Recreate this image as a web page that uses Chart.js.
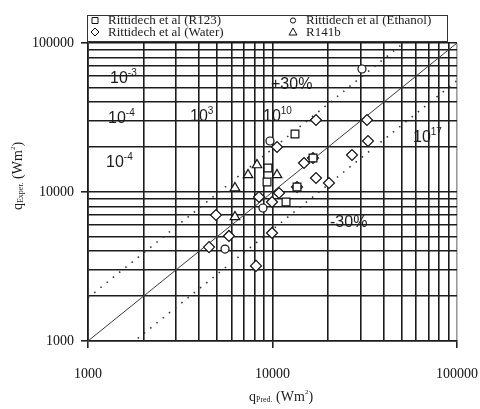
<!DOCTYPE html>
<html>
<head>
<meta charset="utf-8">
<script src="https://cdn.jsdelivr.net/npm/chart.js@4.4.0/dist/chart.umd.min.js"></script>
<style>
  html, body { margin: 0; padding: 0; background: #fff; }
  #wrap { width: 480px; height: 409px; }
</style>
</head>
<body>
<div id="wrap"><canvas id="qChart" width="480" height="409"></canvas></div>
<script>
const r123Pred = [13240, 9450, 9340, 16580, 13580, 11840];
const r123Exp  = [24510, 14490, 11670, 16910, 10800, 8570];

const ethanolPred = [30550, 9690, 8880, 5530];
const ethanolExp  = [66920, 21990, 7810, 4140];

const waterPred = [17210, 32520, 32930, 26970, 14820, 16580, 10580, 17210, 20240, 13580,
                   10850, 8450, 9940, 4940, 5810, 4530, 9940, 8140];
const waterExp  = [30420, 30420, 21990, 17720, 15650, 16910, 20040, 12420, 11490, 10800,
                   9850, 9260, 8570, 7010, 5070, 4270, 5310, 3190];

const r141bPred = [8240, 7370, 10580, 6260, 6260];
const r141bExp  = [15180, 13010, 13010, 10640, 6800];

// reference lines: y = x and the two error bands
const lineX = [1000, 100000];
const upperFactor = 1.95;
const lowerFactor = 0.56;

// grid / tick values on both log axes
const majorTicks = [1000, 10000, 100000];
const gridTicks = [];
for (let d = 1000; d < 100000; d *= 10) {
  for (let k = 1; k < 10; k++) gridTicks.push(k * d);
}
gridTicks.push(100000);

// labels written inside the plot (data coordinates)
const notes = [
  { t: '10', sup: '-3', x: 1316, y: 57330 },
  { t: '10', sup: '-4', x: 1284, y: 30900 },
  { t: '10', sup: '-4', x: 1252, y: 15650 },
  { t: '10', sup: '3', x: 3571, y: 31870 },
  { t: '10', sup: '10', x: 8882, y: 31870 },
  { t: '+30%', sup: '', x: 9815, y: 52260 },
  { t: '-30%', sup: '', x: 20500, y: 6193 },
  { t: '10', sup: '17', x: 57750, y: 23040 }
];

const toPoints = (xs, ys) => xs.map((x, i) => ({ x: x, y: ys[i] }));

const serif = '"Liberation Serif", "Times New Roman", serif';
const sans = '"Liberation Sans", Arial, sans-serif';
const ink = '#1c1c1c';

function markerSet(label, style, xs, ys, radius) {
  return {
    label: label,
    data: toPoints(xs, ys),
    pointStyle: style,
    pointRadius: radius,
    pointBorderColor: '#111',
    pointBackgroundColor: '#fff',
    pointBorderWidth: 1.2,
    showLine: false
  };
}

function lineSet(label, factor, dash) {
  return {
    label: label,
    data: lineX.map(x => ({ x: x, y: x * factor })),
    showLine: true,
    pointRadius: 0,
    borderColor: dash ? '#333' : '#3a3a3a',
    borderWidth: dash ? 1.6 : 1,
    borderDash: dash ? [1.5, 6.5] : [],
    fill: false
  };
}

// draws a run of text pieces with sub/superscripts, returns total width
function richText(ctx, parts, x, y, measureOnly) {
  let cx = x;
  parts.forEach(p => {
    ctx.font = p.f;
    if (!measureOnly) ctx.fillText(p.t, cx, y + (p.dy || 0));
    cx += ctx.measureText(p.t).width;
  });
  return cx - x;
}

function legendMarker(ctx, style, x, y) {
  ctx.beginPath();
  if (style === 'rect') {
    ctx.rect(x - 3, y - 3, 6, 6);
  } else if (style === 'circle') {
    ctx.arc(x, y, 2.6, 0, Math.PI * 2);
  } else if (style === 'rectRot') {
    ctx.moveTo(x - 4, y); ctx.lineTo(x, y - 4); ctx.lineTo(x + 4, y); ctx.lineTo(x, y + 4); ctx.closePath();
  } else {
    ctx.moveTo(x, y - 4); ctx.lineTo(x + 4, y + 3); ctx.lineTo(x - 4, y + 3); ctx.closePath();
  }
  ctx.fillStyle = '#fff';
  ctx.fill();
  ctx.stroke();
}

const decorations = {
  id: 'decorations',
  afterDraw(chart) {
    const ctx = chart.ctx;
    const xs = chart.scales.x, ys = chart.scales.y;
    ctx.save();
    ctx.fillStyle = ink;
    ctx.textBaseline = 'middle';
    ctx.textAlign = 'left';

    // in-plot notes
    notes.forEach(n => {
      const px = xs.getPixelForValue(n.x), py = ys.getPixelForValue(n.y);
      const parts = [{ t: n.t, f: '16px ' + sans }];
      if (n.sup) parts.push({ t: n.sup, f: '10px ' + sans, dy: -6 });
      richText(ctx, parts, px, py);
    });

    // legend box
    ctx.strokeStyle = '#333';
    ctx.lineWidth = 1;
    ctx.strokeRect(87.5, 15.5, 360, 26);
    const cols = [95, 293], rows = [20.5, 32];
    const order = [0, 1, 2, 3];
    order.forEach((di, k) => {
      const ds = chart.data.datasets[di];
      const mx = cols[k % 2], my = rows[Math.floor(k / 2)];
      ctx.strokeStyle = '#111';
      ctx.lineWidth = 1;
      legendMarker(ctx, ds.pointStyle, mx, my);
      ctx.fillStyle = ink;
      ctx.font = '13px ' + serif;
      ctx.fillText(ds.label, mx + 13, my + 0.5);
    });

    // axis titles
    ctx.fillStyle = ink;
    const xTitle = [
      { t: 'q', f: '14px ' + serif },
      { t: 'Pred.', f: '8px ' + serif, dy: 3 },
      { t: ' (Wm', f: '14px ' + serif },
      { t: '2', f: '7px ' + serif, dy: -5 },
      { t: ')', f: '14px ' + serif }
    ];
    const xw = richText(ctx, xTitle, 0, 0, true);
    richText(ctx, xTitle, 281 - xw / 2, 397);

    const yTitle = [
      { t: 'q', f: '14px ' + serif },
      { t: 'Exper.', f: '8px ' + serif, dy: 3 },
      { t: ' (Wm', f: '14px ' + serif },
      { t: '2', f: '7px ' + serif, dy: -5 },
      { t: ')', f: '14px ' + serif }
    ];
    const yw = richText(ctx, yTitle, 0, 0, true);
    ctx.translate(18, 176);
    ctx.rotate(-Math.PI / 2);
    richText(ctx, yTitle, -yw / 2, 0);
    ctx.restore();
  }
};

function logAxis(isX) {
  return {
    type: 'logarithmic',
    min: 1000,
    max: 100000,
    afterBuildTicks: s => { s.ticks = gridTicks.map(v => ({ value: v })); },
    afterFit: s => {
      if (isX) s.height = 68; else s.width = 88;
      // let the layout padding alone decide where the plot box ends
      s.paddingLeft = 0; s.paddingRight = 0;
      s.paddingTop = 0; s.paddingBottom = 0;
    },
    grid: {
      color: c => (isX && c.tick && c.tick.value === 100000) ? '#9a9a9a' : ink,
      lineWidth: 1.6,
      tickLength: 7,
      tickColor: c => (c.tick && majorTicks.includes(c.tick.value)) ? '#222' : 'rgba(0,0,0,0)'
    },
    border: { color: ink, width: 1.6 },
    ticks: {
      autoSkip: false,
      maxRotation: 0,
      padding: isX ? 18 : 7,
      color: '#111',
      font: { family: serif, size: 14 },
      callback: v => majorTicks.includes(v) ? String(v) : ''
    }
  };
}

new Chart(document.getElementById('qChart'), {
  type: 'scatter',
  data: {
    datasets: [
      markerSet('Rittidech et al (R123)', 'rect', r123Pred, r123Exp, 5.5),
      markerSet('Rittidech et al (Ethanol)', 'circle', ethanolPred, ethanolExp, 4),
      markerSet('Rittidech et al (Water)', 'rectRot', waterPred, waterExp, 5.5),
      markerSet('R141b', 'triangle', r141bPred, r141bExp, 5.5),
      lineSet('y = x', 1, false),
      lineSet('+30%', upperFactor, true),
      lineSet('-30%', lowerFactor, true)
    ]
  },
  options: {
    responsive: false,
    animation: false,
    layout: { padding: { top: 43, right: 23, bottom: 0, left: 0 } },
    plugins: {
      legend: { display: false },
      tooltip: { enabled: false }
    },
    scales: {
      x: logAxis(true),
      y: logAxis(false)
    }
  },
  plugins: [decorations]
});
</script>
</body>
</html>
